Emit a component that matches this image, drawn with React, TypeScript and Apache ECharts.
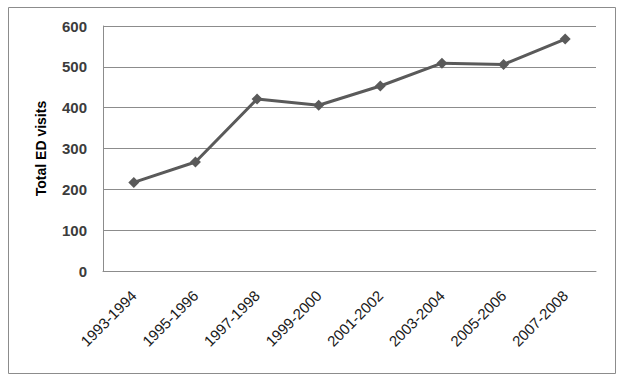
import React, { useEffect, useRef } from "react";
import * as echarts from "echarts";

const categories = ["1993-1994", "1995-1996", "1997-1998", "1999-2000", "2001-2002", "2003-2004", "2005-2006", "2007-2008"];
const visits = [217, 267, 421, 406, 453, 509, 506, 568];
const yTicks = { min: 0, max: 600, interval: 100 };

export default function App() {
  const ref = useRef<HTMLDivElement>(null);
  useEffect(() => {
    document.body.style.margin = "0";
    const chart = echarts.init(ref.current!, null, { renderer: "svg" });
    chart.setOption({
      animation: false,
      backgroundColor: "#ffffff",
      graphic: [
        {
          type: "rect",
          shape: { x: 8.5, y: 7.5, width: 607, height: 366 },
          style: { fill: "none", stroke: "#8c8c8c", lineWidth: 1 },
          silent: true,
        },
      ],
      grid: { left: 103, right: 28, top: 26, bottom: 110 },
      xAxis: {
        type: "category",
        data: categories,
        boundaryGap: true,
        axisLine: { show: true, lineStyle: { color: "#8c8c8c", width: 1 } },
        axisTick: { show: false },
        axisLabel: {
          rotate: 45,
          margin: 22,
          fontFamily: "Liberation Sans, Arial, sans-serif",
          fontSize: 15,
          color: "#1a1a1a",
        },
      },
      yAxis: {
        type: "value",
        min: yTicks.min,
        max: yTicks.max,
        interval: yTicks.interval,
        name: "Total ED visits",
        nameLocation: "middle",
        nameRotate: 90,
        nameGap: 55,
        nameTextStyle: {
          fontFamily: "Liberation Sans, Arial, sans-serif",
          fontSize: 14,
          fontWeight: "bold",
          color: "#000000",
        },
        axisLine: { show: true, lineStyle: { color: "#8c8c8c", width: 1 } },
        axisTick: { show: false },
        splitLine: { show: true, lineStyle: { color: "#8c8c8c", width: 1 } },
        axisLabel: {
          margin: 16,
          fontFamily: "Liberation Sans, Arial, sans-serif",
          fontSize: 15,
          fontWeight: "bold",
          color: "#3c3c3c",
        },
      },
      series: [
        {
          type: "line",
          data: visits,
          symbol: "diamond",
          symbolSize: 11,
          lineStyle: { color: "#5a5a5a", width: 3 },
          itemStyle: { color: "#5a5a5a" },
        },
      ],
    });
    return () => chart.dispose();
  }, []);
  return <div ref={ref} style={{ position: "absolute", left: 0, top: 0, width: 624, height: 381 }} />;
}
